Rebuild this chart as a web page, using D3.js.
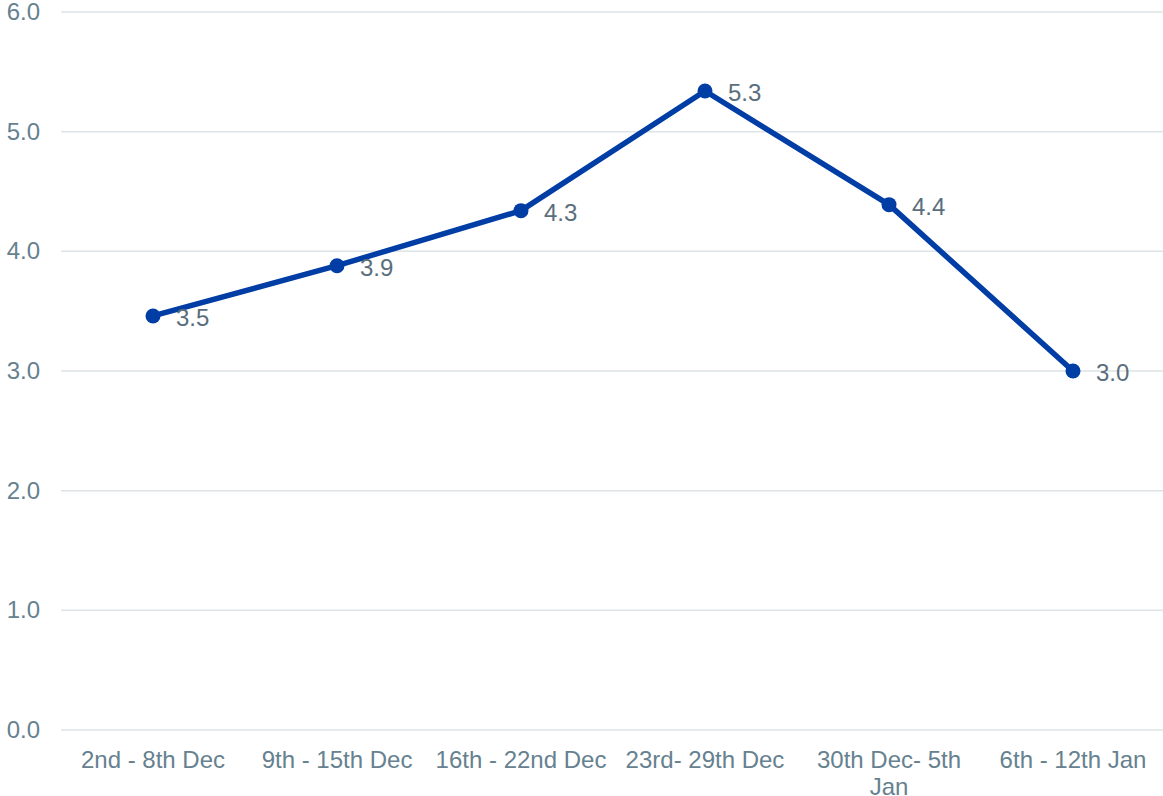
<!DOCTYPE html>
<html>
<head>
<meta charset="utf-8">
<script src="https://cdn.jsdelivr.net/npm/d3@7"></script>
<style>
  body { margin: 0; background: #fff; }
  svg { display: block; font-family: "Liberation Sans", Arial, sans-serif; }
</style>
</head>
<body>
<div id="chart"></div>
<script>
const categories = ["2nd - 8th Dec", "9th - 15th Dec", "16th - 22nd Dec", "23rd- 29th Dec", "30th Dec- 5th Jan", "6th - 12th Jan"];
const values = [3.46, 3.88, 4.34, 5.34, 4.39, 3.0];
const labels = ["3.5", "3.9", "4.3", "5.3", "4.4", "3.0"];
const yTicks = [0, 1, 2, 3, 4, 5, 6];

const width = 1163;
const height = 796;
const fs = "24px";

const x = d3.scaleBand()
    .domain(categories)
    .range([61, 1165]);

const y = d3.scaleLinear()
    .domain([0, 6])
    .range([730, 12]);

const svg = d3.create("svg")
    .attr("width", width)
    .attr("height", height);

// attach first so text can be measured for wrapping
document.getElementById("chart").appendChild(svg.node());

// gridlines
svg.append("g")
  .selectAll("line")
  .data(yTicks)
  .join("line")
    .attr("x1", 61)
    .attr("x2", width)
    .attr("y1", d => y(d))
    .attr("y2", d => y(d))
    .attr("stroke", "#dde3e7")
    .attr("stroke-width", 1.5);

// y labels
svg.append("g")
  .selectAll("text")
  .data(yTicks)
  .join("text")
    .attr("x", 40)
    .attr("y", d => y(d))
    .attr("dy", "0.34em")
    .attr("text-anchor", "end")
    .attr("fill", "#66818f")
    .style("font-size", fs)
    .text(d => d.toFixed(1));

// x labels (wrap long ones)
const xl = svg.append("g")
  .selectAll("text")
  .data(categories)
  .join("text")
    .attr("x", d => x(d) + x.bandwidth() / 2)
    .attr("y", 768)
    .attr("text-anchor", "middle")
    .attr("fill", "#66818f")
    .style("font-size", fs);

xl.each(function(d) {
  const t = d3.select(this);
  const words = d.split(" ");
  let line = [];
  let tspan = t.append("tspan").attr("x", t.attr("x")).attr("dy", 0);
  for (const w of words) {
    line.push(w);
    tspan.text(line.join(" "));
    if (tspan.node().getComputedTextLength() > x.bandwidth() - 8 && line.length > 1) {
      line.pop();
      tspan.text(line.join(" "));
      line = [w];
      tspan = t.append("tspan").attr("x", t.attr("x")).attr("dy", "1.12em").text(w);
    }
  }
});

const cx = d => x(d) + x.bandwidth() / 2;

const line = d3.line()
    .x((d, i) => cx(categories[i]))
    .y(d => y(d));

svg.append("path")
    .datum(values)
    .attr("fill", "none")
    .attr("stroke", "#003da5")
    .attr("stroke-width", 5.5)
    .attr("stroke-linejoin", "round")
    .attr("d", line);

svg.append("g")
  .selectAll("circle")
  .data(values)
  .join("circle")
    .attr("cx", (d, i) => cx(categories[i]))
    .attr("cy", d => y(d))
    .attr("r", 7.5)
    .attr("fill", "#003da5");

svg.append("g")
  .selectAll("text")
  .data(values)
  .join("text")
    .attr("x", (d, i) => cx(categories[i]) + 23)
    .attr("y", d => y(d) + 2)
    .attr("dy", "0.35em")
    .attr("fill", "#5a6e7c")
    .style("font-size", fs)
    .text((d, i) => labels[i]);
</script>
</body>
</html>
